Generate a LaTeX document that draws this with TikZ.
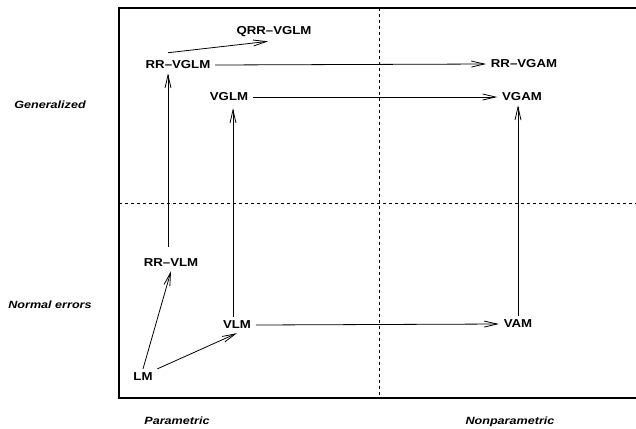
\documentclass[tikz,border=0pt]{standalone}
\usepackage{fontspec}
\setmainfont{Liberation Sans}
\usetikzlibrary{arrows.meta}

\begin{document}
\begin{tikzpicture}[x=1bp, y=-1bp,
  model/.style={font=\bfseries\fontsize{11.5bp}{13bp}\selectfont, xscale=1.15, inner sep=4bp},
  axislabel/.style={font=\bfseries\itshape\fontsize{10.5bp}{12bp}\selectfont, xscale=1.2},
  link/.style={line width=0.8bp, -{Straight Barb[length=13bp,width=6bp]}},
  split/.style={line width=0.8bp, dash pattern=on 3bp off 3bp}]
\useasboundingbox (0,0) rectangle (636,428);

% frame and the two dashed dividers
\draw[line width=1.2bp] (636,8) -- (119,8) -- (119,398) -- (636,398);
\draw[split] (379,8) -- (379,398);
\draw[split] (119,203) -- (636,203);

% models
\node[model] (qrr) at (274,32) {QRR--VGLM};
\node[model] (rrvglm) at (178,65) {RR--VGLM};
\node[model] (vglm) at (229,97) {VGLM};
\node[model] (rrvgam) at (524,64) {RR--VGAM};
\node[model] (vgam) at (522,97) {VGAM};
\node[model] (rrvlm) at (171,263) {RR--VLM};
\node[model] (vlm) at (237,325) {VLM};
\node[model] (vam) at (518,324) {VAM};
\node[model] (lm) at (143,377) {LM};

% row and column labels
\node[axislabel] (gen) at (50,105) {Generalized};
\node[axislabel] (norm) at (50,305) {Normal errors};
\node[axislabel] (par) at (177,421) {Parametric};
\node[axislabel] (nonpar) at (510,422) {Nonparametric};

\coordinate (rrvlmtop) at ([xshift=-3bp,yshift=8bp]rrvlm.north);
\coordinate (vlmtop) at ([xshift=-4bp]vlm.north);

% arrows
\draw[link] ([xshift=-10bp,yshift=4bp]rrvglm.north) -- ([xshift=-6bp]qrr.south);
\draw[link] (rrvglm.east) -- (rrvgam.west);
\draw[link] (vglm.east) -- (vgam.west);
\draw[link] (vlm.east) -- (vam.west);
\draw[link] (rrvlmtop) -- (rrvlmtop |- rrvglm.south);
\draw[link] (vlmtop) -- ([yshift=-3bp]vlmtop |- vglm.south);
\draw[link] (vam.north) -- (vam.north |- vgam.south);
\draw[link] (lm.north) -- (rrvlm.south);
\draw[link] (lm.north east) -- (vlm.south);
\end{tikzpicture}
\end{document}
